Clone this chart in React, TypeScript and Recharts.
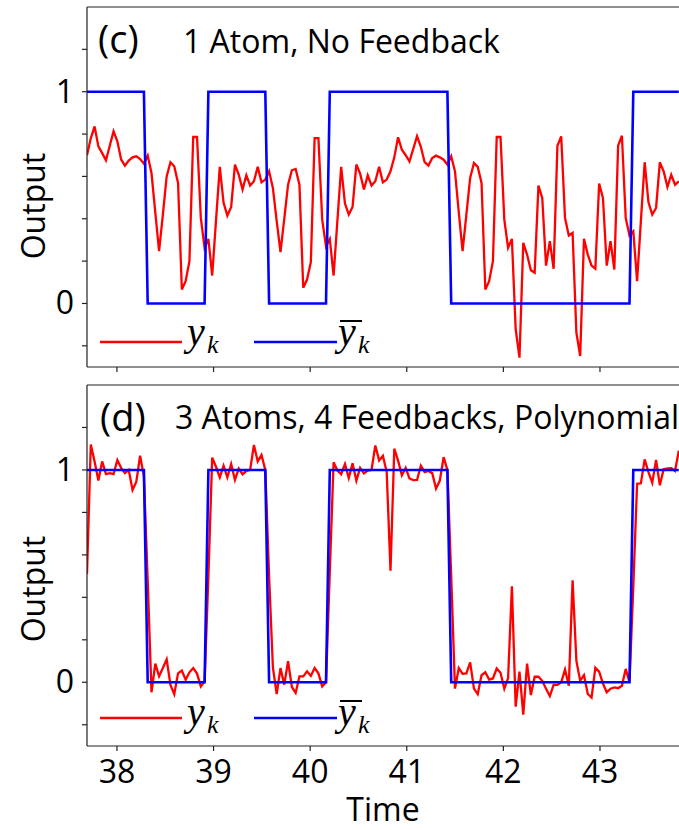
import { LineChart, Line, XAxis, YAxis, ReferenceLine } from 'recharts';

// bit pattern of the target signal, 16 samples per bit
const bits = [1, 0, 1, 0, 1, 1, 0, 0, 0, 1];
const samplesPerBit = 16;
const t0 = 37.69;
const dt = Math.PI / 80;

// (c) 1 atom, no feedback
const topRed = [
  0.70, 0.78, 0.836, 0.742, 0.71, 0.676, 0.745, 0.813, 0.766, 0.68, 0.651, 0.675, 0.69, 0.695, 0.682, 0.66,
  0.698, 0.616, 0.43, 0.247, 0.42, 0.60, 0.667, 0.648, 0.569, 0.066, 0.105, 0.20, 0.786, 0.786, 0.404, 0.262,
  0.305, 0.132, 0.39, 0.645, 0.475, 0.415, 0.456, 0.656, 0.608, 0.538, 0.605, 0.557, 0.577, 0.645, 0.572, 0.585,
  0.624, 0.545, 0.39, 0.243, 0.40, 0.561, 0.629, 0.635, 0.561, 0.074, 0.113, 0.195, 0.781, 0.781, 0.396, 0.27,
  0.305, 0.132, 0.39, 0.645, 0.472, 0.42, 0.456, 0.656, 0.613, 0.538, 0.605, 0.557, 0.577, 0.645, 0.572, 0.585,
  0.624, 0.69, 0.785, 0.726, 0.70, 0.671, 0.73, 0.79, 0.74, 0.667, 0.651, 0.687, 0.698, 0.69, 0.679, 0.656,
  0.695, 0.624, 0.43, 0.247, 0.42, 0.593, 0.663, 0.645, 0.569, 0.066, 0.105, 0.20, 0.786, 0.786, 0.396, 0.263,
  0.305, -0.123, -0.256, 0.286, 0.231, 0.157, 0.145, 0.557, 0.498, 0.179, 0.294, 0.164, 0.745, 0.789, 0.404, 0.321,
  0.333, -0.138, -0.248, 0.305, 0.231, 0.179, 0.164, 0.566, 0.498, 0.179, 0.294, 0.16, 0.745, 0.792, 0.404, 0.321,
  0.341, 0.105, 0.39, 0.667, 0.478, 0.42, 0.451, 0.667, 0.624, 0.55, 0.608, 0.561, 0.577,
];

// (d) 3 atoms, 4 feedbacks, polynomial
const bottomRed = [
  0.51, 1.12, 1.04, 0.95, 1.04, 0.98, 0.985, 0.98, 1.047, 1.01, 0.985, 1.0, 0.906, 0.945, 1.067, 0.97,
  0.48, -0.047, 0.088, 0.028, 0.067, 0.108, -0.012, -0.056, 0.042, 0.055, 0.012, 0.047, 0.067, 0.041, -0.02, 0.004,
  0.5, 1.058, 1.015, 0.965, 1.02, 0.965, 1.028, 0.953, 1.006, 0.98, 0.995, 1.0, 1.118, 1.04, 1.07, 1.0,
  0.5, 0.07, -0.055, 0.067, -0.011, 0.1, -0.022, -0.05, 0.028, 0.028, 0.052, 0.03, 0.067, 0.042, -0.02, 0.0,
  0.52, 1.036, 0.997, 0.98, 1.028, 0.962, 1.031, 0.95, 1.01, 0.984, 0.997, 1.0, 1.115, 1.045, 1.067, 0.99,
  0.526, 1.10, 1.044, 0.975, 1.01, 0.96, 0.952, 0.953, 1.02, 0.99, 0.995, 0.985, 0.912, 0.95, 1.06, 1.0,
  0.5, -0.03, 0.067, 0.04, 0.042, 0.094, -0.03, -0.056, 0.034, 0.047, 0.013, 0.018, 0.065, 0.045, -0.03, 0.02,
  0.452, -0.115, 0.05, -0.152, 0.088, -0.06, 0.026, 0.026, 0.007, -0.03, -0.065, -0.012, -0.012, 0.0, 0.06, -0.016,
  0.48, 0.101, 0.008, 0.034, -0.055, -0.072, 0.068, 0.05, -0.006, -0.047, -0.03, -0.024, -0.028, -0.016, 0.063, 0.0,
  0.45, 0.935, 0.937, 1.05, 0.99, 0.94, 1.047, 0.928, 1.003, 1.007, 1.008, 0.995, 1.09,
];

const xTicks = [38, 39, 40, 41, 42, 43];
const yTicks = [-0.2, 0, 0.2, 0.4, 0.6, 0.8, 1, 1.2];
const yLabels = [0, 1];
const xDomain = [37.69, 43.818];
const yDomain = [-0.3, 1.4];

const font = '"Open Sans", sans-serif';
const axisColor = '#222';

function rows(red: number[]) {
  return red.map((y, i) => ({
    t: t0 + i * dt,
    y,
    ybar: bits[Math.floor(i / samplesPerBit)],
  }));
}

const YTick = (props: any) => {
  const { x, y, payload } = props;
  if (!yLabels.includes(payload.value)) return <g />;
  return (
    <text x={x} y={y} dy={11} textAnchor="end" fontFamily={font} fontSize={32} fill="#000">
      {payload.value}
    </text>
  );
};

const XTick = (props: any) => {
  const { x, y, payload } = props;
  return (
    <text x={x} y={y} dy={23} textAnchor="middle" fontFamily={font} fontSize={32} fill="#000">
      {payload.value}
    </text>
  );
};

const NoTick = () => <g />;

function Panel({ red, height, top, xHeight, labels }: any) {
  return (
    <div style={{ position: 'absolute', left: 0, top: 0 }}>
      <LineChart width={679} height={height} data={rows(red)} margin={{ top, right: 0, left: 0, bottom: 0 }}>
        <XAxis
          dataKey="t"
          type="number"
          domain={xDomain}
          ticks={xTicks}
          allowDataOverflow
          height={xHeight}
          tickSize={5}
          tickMargin={9}
          tick={labels ? XTick : NoTick}
          stroke={axisColor}
          strokeWidth={1.2}
        />
        <YAxis
          type="number"
          domain={yDomain}
          ticks={yTicks}
          allowDataOverflow
          width={87}
          tickSize={5}
          tickMargin={8}
          tick={YTick}
          stroke={axisColor}
          strokeWidth={1.2}
        />
        <ReferenceLine y={1.4} stroke={axisColor} strokeWidth={1.2} />
        <Line dataKey="y" type="linear" stroke="#ff0000" strokeWidth={2.3} dot={false} isAnimationActive={false} />
        <Line dataKey="ybar" type="linear" stroke="#0000ff" strokeWidth={2.6} dot={false} isAnimationActive={false} />
      </LineChart>
    </div>
  );
}

function LegendRow({ y, base }: { y: number; base: number }) {
  const math = '"Liberation Serif", "DejaVu Serif", serif';
  return (
    <g>
      <line x1={100} x2={182} y1={y} y2={y} stroke="#ff0000" strokeWidth={2.3} />
      <text x={187} y={base} fontFamily={math} fontStyle="italic" fontSize={40}>y</text>
      <text x={207} y={base + 8} fontFamily={math} fontStyle="italic" fontSize={26}>k</text>
      <line x1={254} x2={337} y1={y} y2={y} stroke="#0000ff" strokeWidth={2.6} />
      <line x1={340} x2={362} y1={base - 24} y2={base - 24} stroke="#000" strokeWidth={2} />
      <text x={338} y={base} fontFamily={math} fontStyle="italic" fontSize={40}>y</text>
      <text x={358} y={base + 8} fontFamily={math} fontStyle="italic" fontSize={26}>k</text>
    </g>
  );
}

export default function App() {
  return (
    <div style={{ position: 'absolute', left: 0, top: 0, width: 679, height: 830, background: '#fff' }}>
      <Panel red={topRed} height={375} top={7} xHeight={8} labels={false} />
      <div style={{ position: 'absolute', left: 0, top: 375 }}>
        <Panel red={bottomRed} height={455} top={10} xHeight={84} labels />
      </div>
      <svg width={679} height={830} style={{ position: 'absolute', left: 0, top: 0, pointerEvents: 'none' }}>
        <g fontFamily={font} fill="#000">
          <text x={98} y={53} fontSize={38}>(c)</text>
          <text x={183} y={53} fontSize={32}>1 Atom, No Feedback</text>
          <text x={100} y={431} fontSize={38}>(d)</text>
          <text x={175} y={429} fontSize={32}>3 Atoms, 4 Feedbacks, Polynomial</text>
          <text x={45} y={206} fontSize={32} textAnchor="middle" transform="rotate(-90 45 206)">Output</text>
          <text x={45} y={589} fontSize={32} textAnchor="middle" transform="rotate(-90 45 589)">Output</text>
          <text x={383} y={821} fontSize={32} textAnchor="middle">Time</text>
        </g>
        <LegendRow y={342} base={345} />
        <LegendRow y={718} base={725} />
      </svg>
    </div>
  );
}
